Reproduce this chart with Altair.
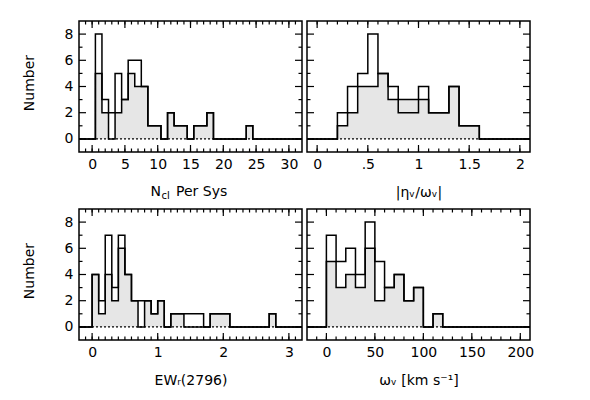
import altair as alt
import pandas as pd

W, H = 223, 131
FONT = "DejaVu Sans"

# ---- shared y ----
y_domain = [-1, 9]
y_major = [0, 2, 4, 6, 8]
y_minor = [1, 3, 5, 7]

# ---- panel 1: N_cl per system ----
p1_start, p1_width = 0.5, 1
p1_A = [5, 2, 0, 2, 3, 5, 4, 4, 1, 1, 0, 2, 1, 1, 0, 1, 1, 2, 0, 0, 0, 0, 0, 1]
p1_B = [8, 3, 2, 5, 3, 6, 6, 4, 1, 1, 0, 2, 1, 1, 0, 1, 1, 2, 0, 0, 0, 0, 0, 1]
p1_domain = [-2, 32]
p1_major = [0, 5, 10, 15, 20, 25, 30]
p1_labels = ["0", "5", "10", "15", "20", "25", "30"]
p1_minor = list(range(-1, 32))
p1_title_parts = ["N", "cl", "Per Sys"]

# ---- panel 2: |eta_v / omega_v| ----
p2_start, p2_width = 0.2, 0.1
p2_A = [1, 2, 4, 4, 5, 3, 3, 3, 3, 2, 2, 4, 1, 1]
p2_B = [2, 4, 5, 8, 5, 4, 2, 2, 4, 2, 2, 4, 1, 1]
p2_domain = [-0.1, 2.1]
p2_major = [0, 0.5, 1, 1.5, 2]
p2_labels = ["0", ".5", "1", "1.5", "2"]
p2_minor = [round(i * 0.1, 2) for i in range(0, 21)]
p2_title = "|ηᵥ/ωᵥ|"

# ---- panel 3: EW_r(2796) ----
p3_start, p3_width = 0.0, 0.1
p3_A = [4, 1, 4, 2, 6, 4, 2, 0, 2, 1, 2, 0, 1, 1, 0, 0, 0, 0, 1, 1, 1, 0, 0, 0, 0, 0, 0, 1]
p3_B = [4, 2, 7, 3, 7, 4, 2, 2, 2, 1, 2, 0, 1, 1, 1, 1, 1, 0, 1, 1, 1, 0, 0, 0, 0, 0, 0, 1]
p3_domain = [-0.2, 3.2]
p3_major = [0, 1, 2, 3]
p3_labels = ["0", "1", "2", "3"]
p3_minor = [round(i * 0.1, 2) for i in range(-1, 32)]
p3_title = "EWᵣ(2796)"

# ---- panel 4: omega_v ----
p4_start, p4_width = 0, 10
p4_A = [5, 3, 4, 3, 6, 2, 3, 4, 2, 3, 0, 1]
p4_B = [7, 5, 6, 4, 8, 5, 3, 4, 2, 3, 0, 1]
p4_domain = [-20, 210]
p4_major = [0, 50, 100, 150, 200]
p4_labels = ["0", "50", "100", "150", "200"]
p4_minor = list(range(-10, 201, 10))
p4_title = "ωᵥ  [km  s⁻¹]"

MAJ, MIN = 7, 3.5
LW = 1.5


def label_expr(vals, labels):
    parts = []
    for v, t in zip(vals, labels):
        parts.append(f"abs(datum.value - ({v})) < 1e-9 ? '{t}' : ")
    return "".join(parts) + "''"


def panel(start, width, A, B, domain, major, labels, minor, xtitle, left, title_parts=None):
    n = len(A)
    edges = [round(start + i * width, 6) for i in range(n + 1)]

    def step_df(c):
        xs = [domain[0]] + edges[:-1] + [edges[-1], domain[1]]
        ys = [0] + list(c) + [0, 0]
        return pd.DataFrame({"x": xs, "y": ys})

    area_df = pd.DataFrame({"x": edges, "y": list(A) + [0], "base": [0] * (n + 1)})
    zero_df = pd.DataFrame({"y": [0]})

    xs = alt.Scale(domain=domain, nice=False, zero=False)
    ys = alt.Scale(domain=y_domain, nice=False, zero=False)
    xaxis = alt.Axis(values=major, labelExpr=label_expr(major, labels),
                     title=(xtitle if xtitle else ""),
                     labelPadding=5, titleY=44, titleBaseline="alphabetic")
    xenc = alt.X("x:Q", scale=xs, axis=xaxis)
    if left:
        yaxis = alt.Axis(values=y_major, labelPadding=6, title="Number",
                         titleX=-50, titleY=H / 2 - 4, titleAngle=270,
                         titleBaseline="middle", titleAlign="center")
        yenc = alt.Y("y:Q", scale=ys, axis=yaxis)
        yenc_area = alt.Y("y:Q", scale=ys, axis=yaxis, stack=None)
    else:
        yenc = alt.Y("y:Q", scale=ys, axis=None)
        yenc_area = alt.Y("y:Q", scale=ys, axis=None, stack=None)

    layers = []
    layers.append(alt.Chart(area_df).mark_area(interpolate="step-after", color="#e6e6e6")
                  .encode(x=xenc, y=yenc_area, y2="base:Q"))
    layers.append(alt.Chart(zero_df).mark_rule(color="black", strokeWidth=1.2, strokeDash=[2, 2])
                  .encode(y=yenc))
    for c in (B, A):
        layers.append(alt.Chart(step_df(c)).mark_line(interpolate="step-after", color="black",
                                                      strokeWidth=LW)
                      .encode(x=xenc, y=yenc))

    # ticks (inward)
    for vals, L in ((minor, MIN), (major, MAJ)):
        d = pd.DataFrame({"x": vals})
        layers.append(alt.Chart(d).mark_rule(color="black", strokeWidth=1.2)
                      .encode(x=xenc, y=alt.value(H), y2=alt.value(H - L)))
        layers.append(alt.Chart(d).mark_rule(color="black", strokeWidth=1.2)
                      .encode(x=xenc, y=alt.value(0), y2=alt.value(L)))
    for vals, L in ((y_minor, MIN), (y_major, MAJ)):
        d = pd.DataFrame({"y": vals})
        layers.append(alt.Chart(d).mark_rule(color="black", strokeWidth=1.2)
                      .encode(y=yenc, x=alt.value(0), x2=alt.value(L)))
        layers.append(alt.Chart(d).mark_rule(color="black", strokeWidth=1.2)
                      .encode(y=yenc, x=alt.value(W), x2=alt.value(W - L)))

    if title_parts is not None:
        main, sub, rest = title_parts
        layers.append(alt.Chart(pd.DataFrame({"t": [main]}))
                      .mark_text(align="right", baseline="alphabetic", fontSize=14, font=FONT, color="black")
                      .encode(text="t:N", x=alt.value(82), y=alt.value(H + 44)))
        layers.append(alt.Chart(pd.DataFrame({"t": [sub]}))
                      .mark_text(align="left", baseline="alphabetic", fontSize=10, font=FONT, color="black")
                      .encode(text="t:N", x=alt.value(82.5), y=alt.value(H + 47)))
        layers.append(alt.Chart(pd.DataFrame({"t": [rest]}))
                      .mark_text(align="left", baseline="alphabetic", fontSize=14, font=FONT, color="black")
                      .encode(text="t:N", x=alt.value(97), y=alt.value(H + 44)))

    return alt.layer(*layers).properties(width=W, height=H)


c1 = panel(p1_start, p1_width, p1_A, p1_B, p1_domain, p1_major, p1_labels, p1_minor, None, True, p1_title_parts)
c2 = panel(p2_start, p2_width, p2_A, p2_B, p2_domain, p2_major, p2_labels, p2_minor, p2_title, False)
c3 = panel(p3_start, p3_width, p3_A, p3_B, p3_domain, p3_major, p3_labels, p3_minor, p3_title, True)
c4 = panel(p4_start, p4_width, p4_A, p4_B, p4_domain, p4_major, p4_labels, p4_minor, p4_title, False)

chart = alt.vconcat(
    alt.hconcat(c1, c2, spacing=-3),
    alt.hconcat(c3, c4, spacing=-3),
    spacing=5,
).properties(
    padding={"left": 13, "top": 11, "right": 5, "bottom": 5}
).configure_view(
    stroke="black", strokeWidth=1.5
).configure_axis(
    grid=False, domain=False, ticks=False,
    labelFont=FONT, titleFont=FONT, labelFontSize=14, titleFontSize=14,
    labelColor="black", titleColor="black", titleFontWeight="normal"
)

chart.save("out.html", embed_options={"renderer": "svg", "actions": False})
